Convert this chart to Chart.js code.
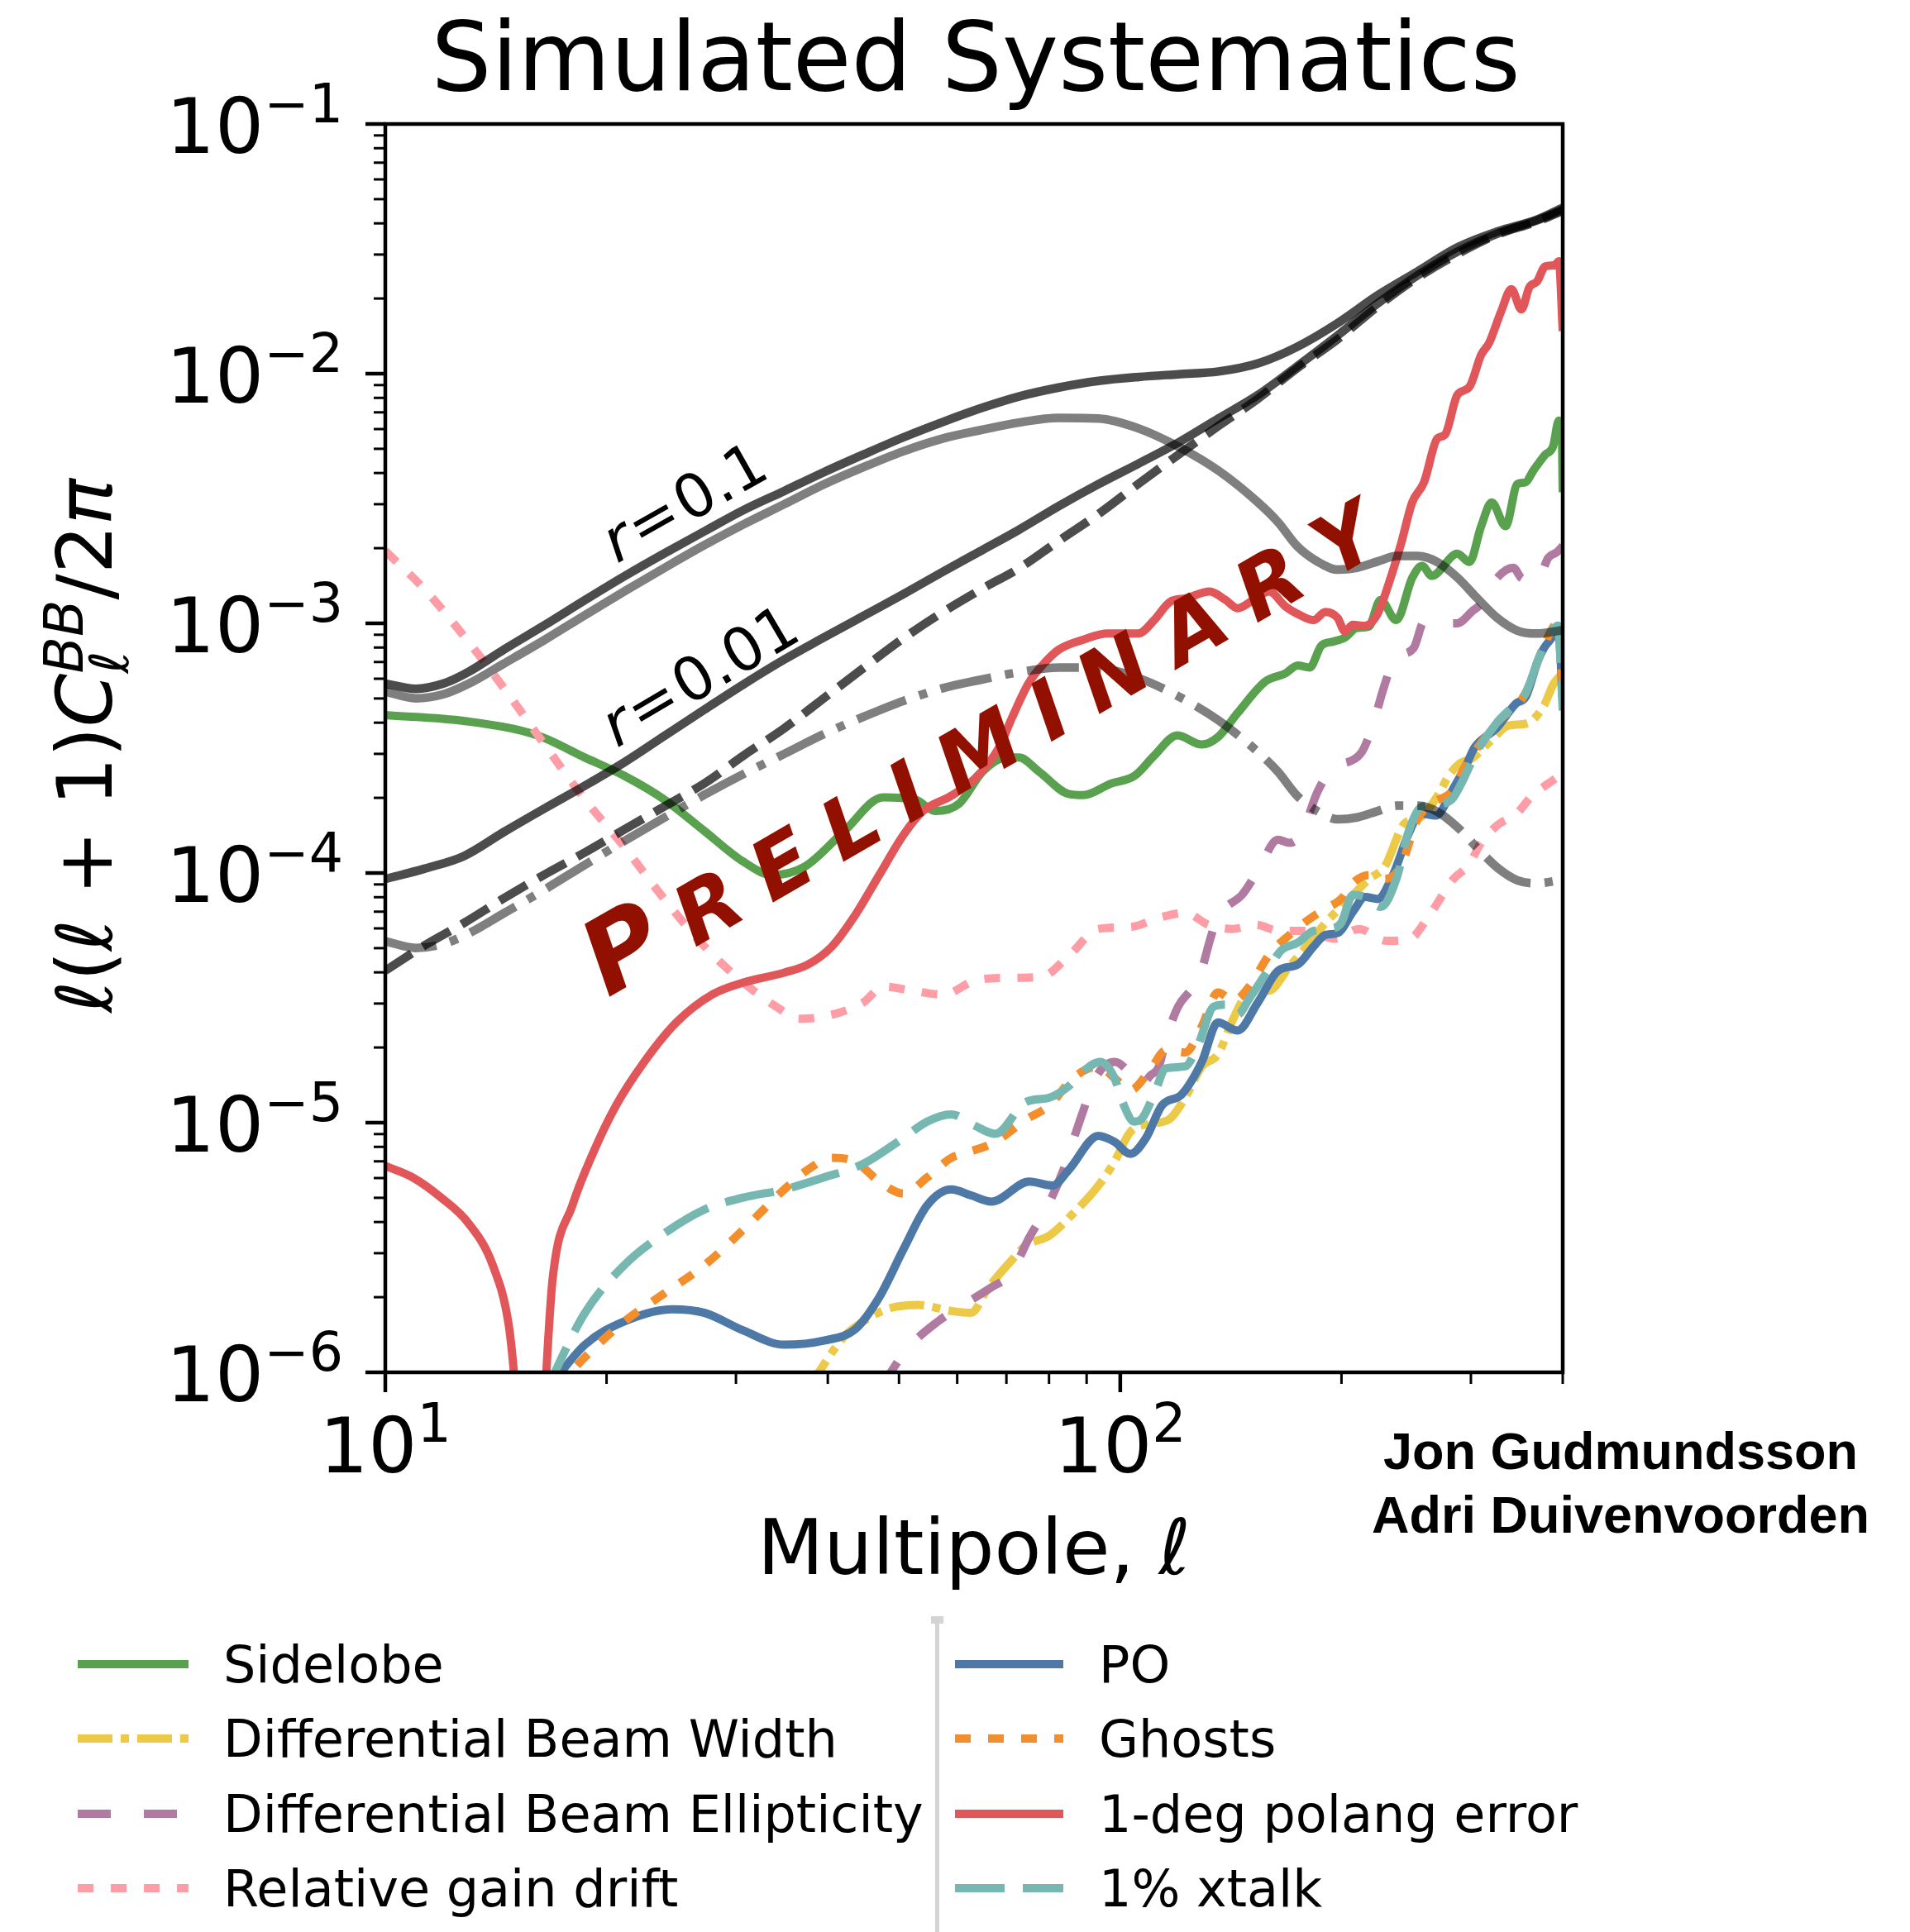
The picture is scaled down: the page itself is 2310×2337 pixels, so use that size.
<!DOCTYPE html>
<html>
<head>
<meta charset="utf-8">
<title>Simulated Systematics</title>
<script src="https://cdn.jsdelivr.net/npm/chart.js@4.4.1/dist/chart.umd.min.js"></script>
<style>
  html, body { margin: 0; padding: 0; background: #fff; overflow: hidden; }
  canvas { display: block; }
</style>
</head>
<body>
<canvas id="bbChart" width="2310" height="2337"></canvas>
<script>
// multipole grids and D_ell^BB values
const ellR01Total = [10, 11, 12, 13, 14.5, 16.5, 18.7, 21.2, 24, 27.2, 30.7, 34.9, 39.5, 44.7, 50.7, 57.4, 65, 72.8, 82.5, 93.4, 106, 120, 136, 154, 174, 198, 224, 254, 288, 326, 369, 400];
const clR01Total = [5.74e-4, 5.47e-4, 5.74e-4, 6.41e-4, 7.85e-4, 9.86e-4, 1.24e-3, 1.55e-3, 1.91e-3, 2.34e-3, 2.84e-3, 3.39e-3, 4.03e-3, 4.74e-3, 5.56e-3, 6.41e-3, 7.31e-3, 8.1e-3, 8.8e-3, 9.35e-3, 9.7e-3, 9.95e-3, 1.02e-2, 1.10e-2, 1.28e-2, 1.60e-2, 2.06e-2, 2.57e-2, 3.21e-2, 3.71e-2, 4.14e-2, 4.62e-2];

const ellTensor = [10, 11, 12, 13, 14.5, 16.5, 18.7, 21.2, 24, 27.2, 30.7, 34.9, 39.5, 44.7, 50.7, 57.4, 64.2, 72.8, 82.5, 93.4, 106, 120, 136, 154, 164, 174, 186, 198, 210, 224, 238, 254, 270, 288, 306, 326, 347, 369, 400];
const clR01Tensor = [5.33e-4, 5.01e-4, 5.2e-4, 5.74e-4, 6.9e-4, 8.61e-4, 1.08e-3, 1.35e-3, 1.67e-3, 2.06e-3, 2.49e-3, 3.0e-3, 3.6e-3, 4.22e-3, 4.89e-3, 5.5e-3, 5.92e-3, 6.37e-3, 6.65e-3, 6.61e-3, 6.03e-3, 5.1e-3, 4.09e-3, 3.05e-3, 2.54e-3, 2.04e-3, 1.76e-3, 1.64e-3, 1.67e-3, 1.77e-3, 1.86e-3, 1.86e-3, 1.76e-3, 1.52e-3, 1.26e-3, 1.05e-3, 9.35e-4, 9.1e-4, 9.4e-4];
const clR001Tensor = [5.33e-5, 5.01e-5, 5.2e-5, 5.74e-5, 6.9e-5, 8.61e-5, 1.08e-4, 1.35e-4, 1.67e-4, 2.06e-4, 2.49e-4, 3.0e-4, 3.6e-4, 4.22e-4, 4.89e-4, 5.5e-4, 5.92e-4, 6.37e-4, 6.65e-4, 6.61e-4, 6.03e-4, 5.1e-4, 4.09e-4, 3.05e-4, 2.54e-4, 2.04e-4, 1.76e-4, 1.64e-4, 1.67e-4, 1.77e-4, 1.86e-4, 1.86e-4, 1.76e-4, 1.52e-4, 1.26e-4, 1.05e-4, 9.35e-5, 9.1e-5, 9.4e-5];

const ellLens = [10, 11.3, 12.8, 14.5, 16.5, 18.7, 21.2, 24, 27.2, 30.7, 34.9, 39.5, 44.7, 50.7, 57.4, 65, 72.8, 82.5, 93.4, 106, 120, 136, 154, 174, 198, 224, 254, 288, 326, 369, 400];
const clLens = [4.06e-5, 5.12e-5, 6.31e-5, 7.92e-5, 9.89e-5, 1.21e-4, 1.50e-4, 1.85e-4, 2.29e-4, 2.95e-4, 3.80e-4, 5.01e-4, 6.61e-4, 8.71e-4, 1.11e-3, 1.38e-3, 1.66e-3, 2.14e-3, 2.74e-3, 3.63e-3, 4.74e-3, 6.17e-3, 7.94e-3, 1.05e-2, 1.38e-2, 1.86e-2, 2.43e-2, 3.02e-2, 3.61e-2, 4.07e-2, 4.49e-2];
const clR001Total = [9.46e-5, 1.04e-4, 1.17e-4, 1.46e-4, 1.82e-4, 2.24e-4, 2.79e-4, 3.55e-4, 4.52e-4, 5.69e-4, 7.16e-4, 8.77e-4, 1.07e-3, 1.31e-3, 1.61e-3, 1.97e-3, 2.37e-3, 2.95e-3, 3.61e-3, 4.37e-3, 5.30e-3, 6.61e-3, 8.22e-3, 1.07e-2, 1.43e-2, 1.91e-2, 2.48e-2, 3.09e-2, 3.64e-2, 4.11e-2, 4.54e-2];

const ellSidelobe = [10, 12.84, 16.1, 18.69, 21.15, 23.96, 27.2, 30.7, 33.6, 37.2, 42.1, 47.6, 52.6, 56, 60.4, 65, 70.1, 72.8, 77.5, 84.8, 89.1, 97.1, 104.6, 111.2, 119.6, 129.1, 135.8, 144.4, 157.6, 167.7, 174.4, 181, 187.8, 194.9, 202.2, 209.9, 217.8, 226, 237.5, 249.6, 257.4, 265.4, 287.5, 298.6, 309.8, 320.2, 334.4, 347, 355.8, 364.8, 378.6, 388, 395.2, 398.7, 400];
const clSidelobe = [4.29e-4, 4.06e-4, 3.56e-4, 2.90e-4, 2.45e-4, 1.97e-4, 1.47e-4, 1.11e-4, 9.82e-5, 1.06e-4, 1.47e-4, 2.01e-4, 1.97e-4, 1.77e-4, 1.90e-4, 2.55e-4, 2.90e-4, 2.90e-4, 2.55e-4, 2.08e-4, 2.05e-4, 2.28e-4, 2.45e-4, 2.95e-4, 3.56e-4, 3.27e-4, 3.50e-4, 4.37e-4, 5.85e-4, 6.30e-4, 6.78e-4, 6.65e-4, 8.15e-4, 8.45e-4, 8.77e-4, 9.59e-4, 9.70e-4, 1.24e-3, 1.03e-3, 1.52e-3, 1.70e-3, 1.55e-3, 1.90e-3, 1.76e-3, 2.45e-3, 3.05e-3, 2.45e-3, 3.61e-3, 3.67e-3, 4.09e-3, 4.74e-3, 5.10e-3, 6.49e-3, 6.10e-3, 3.35e-3];

const ellBeamWidth = [37.5, 42.1, 44.7, 48.1, 53.2, 58.9, 62.7, 65.9, 71.0, 74.4, 80.1, 86.3, 93.4, 98.2, 103.2, 109.7, 116.5, 122.6, 129.1, 135.8, 142.6, 149.8, 159.5, 169.9, 181, 190.2, 202.5, 218.1, 229, 243.7, 256.2, 272.5, 279, 290, 301, 322, 337, 358, 377, 389, 400];
const clBeamWidth = [8.5e-7, 1.39e-6, 1.60e-6, 1.79e-6, 1.86e-6, 1.76e-6, 1.73e-6, 2.15e-6, 2.79e-6, 3.22e-6, 3.53e-6, 4.33e-6, 5.60e-6, 6.97e-6, 9.18e-6, 9.89e-6, 1.03e-5, 1.26e-5, 1.68e-5, 1.88e-5, 2.62e-5, 3.32e-5, 3.38e-5, 4.22e-5, 5.26e-5, 6.31e-5, 7.59e-5, 9.46e-5, 1.06e-4, 1.58e-4, 1.67e-4, 2.12e-4, 2.42e-4, 2.75e-4, 2.88e-4, 3.47e-4, 3.89e-4, 3.98e-4, 4.68e-4, 5.75e-4, 6.31e-4];

const ellEllipticity = [47, 51.3, 56.5, 61.1, 66.8, 71, 75.2, 79.2, 83.7, 85.8, 89.1, 92.5, 98.2, 104.5, 106.6, 110, 112.7, 115.6, 119.9, 124.6, 127.7, 132.6, 135.8, 139.2, 146.4, 153.9, 163.9, 170, 176.4, 185.6, 193.8, 212.6, 220.5, 228, 235.8, 250.6, 259.4, 270, 287, 302.5, 310, 325.6, 342.6, 351.4, 369, 382.3, 392.9, 400];
const clEllipticity = [8.5e-7, 1.24e-6, 1.60e-6, 1.86e-6, 2.19e-6, 2.49e-6, 3.47e-6, 4.49e-6, 6.47e-6, 8.07e-6, 1.12e-5, 1.51e-5, 1.75e-5, 1.51e-5, 1.41e-5, 1.55e-5, 1.66e-5, 2.19e-5, 2.92e-5, 3.38e-5, 3.71e-5, 5.45e-5, 6.79e-5, 7.31e-5, 8.17e-5, 1.02e-4, 1.36e-4, 1.32e-4, 1.44e-4, 2.12e-4, 2.60e-4, 3.02e-4, 3.89e-4, 5.45e-4, 7.14e-4, 7.94e-4, 1.02e-3, 1.0e-3, 1.0e-3, 1.13e-3, 1.20e-3, 1.52e-3, 1.67e-3, 1.52e-3, 1.47e-3, 1.83e-3, 1.93e-3, 2.04e-3];

const ellGainDrift = [10, 11.33, 12.84, 14.55, 16.05, 18.69, 21.15, 23.96, 27.2, 30.7, 34.0, 36.6, 39.5, 44.7, 47.6, 52.0, 57.4, 63.5, 70, 78.3, 85.4, 93.4, 103.2, 113.9, 122.6, 132, 142, 152.8, 164.7, 179.6, 196.1, 211.3, 230.2, 247.7, 263.5, 284, 298.3, 309.6, 325.6, 346.3, 363.8, 382.1, 395.7, 400];
const clGainDrift = [1.95e-3, 1.36e-3, 8.77e-4, 5.43e-4, 3.63e-4, 1.97e-4, 1.27e-4, 7.87e-5, 5.07e-5, 3.64e-5, 2.92e-5, 2.61e-5, 2.66e-5, 3.03e-5, 3.51e-5, 3.38e-5, 3.26e-5, 3.71e-5, 3.80e-5, 3.85e-5, 4.71e-5, 5.97e-5, 6.08e-5, 6.67e-5, 6.92e-5, 6.19e-5, 5.97e-5, 6.2e-5, 5.86e-5, 5.86e-5, 5.45e-5, 5.97e-5, 5.35e-5, 5.45e-5, 6.79e-5, 9.46e-5, 1.08e-4, 1.32e-4, 1.55e-4, 1.73e-4, 2.05e-4, 2.28e-4, 2.45e-4, 2.51e-4];

const ellPO = [16.5, 18.69, 21.15, 24.6, 27.2, 30.7, 34.9, 39.5, 43.6, 47.0, 50.7, 54.6, 58.9, 62.7, 66.8, 75.2, 80.9, 85.1, 93.4, 98.2, 103.2, 108.4, 113.9, 121.3, 129.1, 135.8, 144.4, 153.9, 164, 174.4, 183.2, 190.2, 197.6, 207.6, 215.4, 223.9, 235, 246.9, 256.2, 269, 282.4, 296.2, 303.4, 325, 346, 356, 370, 377, 388, 394, 400];
const clPO = [8.3e-7, 1.29e-6, 1.60e-6, 1.79e-6, 1.73e-6, 1.47e-6, 1.29e-6, 1.34e-6, 1.49e-6, 2.0e-6, 3.11e-6, 4.66e-6, 5.40e-6, 5.11e-6, 4.83e-6, 5.81e-6, 5.60e-6, 6.47e-6, 8.85e-6, 8.38e-6, 7.50e-6, 8.69e-6, 1.17e-5, 1.30e-5, 1.75e-5, 2.52e-5, 2.34e-5, 3.03e-5, 4.06e-5, 4.30e-5, 5.07e-5, 5.65e-5, 5.75e-5, 7.05e-5, 8.02e-5, 7.87e-5, 9.82e-5, 1.44e-4, 1.73e-4, 1.70e-4, 2.12e-4, 2.74e-4, 3.18e-4, 3.80e-4, 4.79e-4, 5.06e-4, 7.08e-4, 7.94e-4, 8.91e-4, 9.77e-4, 5.01e-4];

const ellGhosts = [17.0, 18.69, 21.15, 23.96, 27.2, 30.7, 34.9, 37.6, 40.5, 43.6, 47.0, 50.7, 54.6, 58.9, 61.1, 67.6, 74.4, 80.1, 86.3, 93.4, 98.2, 103.2, 109.7, 115.4, 122.6, 129.1, 135.8, 142.6, 149.8, 159.5, 169.9, 181, 190.2, 199.8, 207.3, 218.1, 229, 240.6, 253.7, 265.5, 282.4, 296.2, 325, 356, 377, 394, 400];
const clGhosts = [8.5e-7, 1.15e-6, 1.60e-6, 2.07e-6, 2.69e-6, 3.73e-6, 5.40e-6, 6.49e-6, 7.23e-6, 6.97e-6, 5.81e-6, 5.20e-6, 6.03e-6, 7.23e-6, 7.50e-6, 8.38e-6, 1.03e-5, 1.17e-5, 1.51e-5, 1.68e-5, 1.51e-5, 1.35e-5, 1.62e-5, 1.95e-5, 1.91e-5, 2.43e-5, 3.32e-5, 3.08e-5, 3.51e-5, 4.71e-5, 5.65e-5, 6.55e-5, 7.18e-5, 7.87e-5, 9.12e-5, 9.82e-5, 9.46e-5, 1.06e-4, 1.64e-4, 1.90e-4, 2.12e-4, 2.74e-4, 3.98e-4, 5.25e-4, 8.13e-4, 1.0e-3, 5.62e-4];

const ellPolang = [10, 10.9, 11.91, 12.99, 14.0, 14.72, 15.9, 16.9, 17.97, 19.15, 20.6, 22.5, 24.89, 27.85, 30.7, 34.9, 37.6, 40.5, 43.6, 47.0, 50.7, 53.9, 58.9, 63.5, 68.3, 71.3, 75, 78.3, 82.5, 89.1, 96.2, 105.8, 111.2, 116.9, 122.9, 132.3, 139.1, 144.4, 151.7, 159.5, 167.7, 174.4, 183.2, 190.2, 197.6, 202.2, 207.2, 215.2, 223.9, 232.4, 241.3, 249.6, 259, 270, 276.6, 287.5, 298.6, 309.8, 317.7, 329.9, 340.5, 351.4, 360.3, 369.1, 378.6, 390.4, 395.2, 400];
const clPolang = [6.71e-6, 6.03e-6, 5.01e-6, 3.94e-6, 2.69e-6, 1.55e-6, 2.0e-7, 2.40e-6, 4.66e-6, 7.50e-6, 1.17e-5, 1.75e-5, 2.52e-5, 3.26e-5, 3.64e-5, 3.99e-5, 4.30e-5, 5.07e-5, 6.79e-5, 9.82e-5, 1.42e-4, 1.77e-4, 2.04e-4, 2.40e-4, 3.16e-4, 4.21e-4, 5.74e-4, 6.78e-4, 7.85e-4, 8.61e-4, 9.10e-4, 9.10e-4, 1.03e-3, 1.22e-3, 1.26e-3, 1.34e-3, 1.24e-3, 1.15e-3, 1.24e-3, 1.34e-3, 1.17e-3, 1.09e-3, 1.03e-3, 1.11e-3, 1.05e-3, 9.27e-4, 9.86e-4, 9.77e-4, 1.09e-3, 1.47e-3, 2.11e-3, 3.05e-3, 3.67e-3, 5.50e-3, 5.70e-3, 8.22e-3, 8.85e-3, 1.19e-2, 1.33e-2, 1.78e-2, 2.18e-2, 1.81e-2, 2.22e-2, 2.34e-2, 2.69e-2, 2.72e-2, 2.82e-2, 1.48e-2];

const ellXtalk = [16.5, 18.69, 21.15, 23.96, 27.2, 30.7, 34.9, 39.5, 44.7, 50.7, 54.6, 58.9, 63.5, 67.6, 74.4, 80.1, 85.1, 89.4, 93.9, 98.2, 100.7, 104.5, 107.1, 111.2, 115.4, 122.6, 127.4, 134.1, 139.2, 144.4, 149.8, 157.5, 165.5, 174.4, 183.2, 192.5, 199.8, 207.3, 215.3, 226.1, 237.5, 246.9, 256.2, 265.5, 282.4, 293, 303.4, 325, 346, 356, 370, 377, 394, 400];
const clXtalk = [8.3e-7, 1.73e-6, 2.69e-6, 3.60e-6, 4.49e-6, 5.01e-6, 5.40e-6, 6.03e-6, 6.84e-6, 8.69e-6, 1.01e-5, 1.08e-5, 9.70e-6, 9.02e-6, 1.21e-5, 1.26e-5, 1.40e-5, 1.62e-5, 1.75e-5, 1.51e-5, 1.21e-5, 1.01e-5, 1.04e-5, 1.30e-5, 1.65e-5, 1.68e-5, 2.02e-5, 2.92e-5, 2.97e-5, 2.71e-5, 3.14e-5, 3.92e-5, 4.89e-5, 5.26e-5, 5.86e-5, 5.97e-5, 6.31e-5, 8.17e-5, 8.02e-5, 7.31e-5, 9.46e-5, 1.47e-4, 1.83e-4, 1.87e-4, 1.97e-4, 2.37e-4, 2.95e-4, 3.98e-4, 4.79e-4, 5.25e-4, 7.08e-4, 8.13e-4, 9.77e-4, 4.47e-4];

// axis ticks
const xMajorTicks = [10, 100];
const xMinorTicks = [20, 30, 40, 50, 60, 70, 80, 90, 200, 300, 400];
const yTickExps = [-1, -2, -3, -4, -5, -6];

// legend, two columns as in the figure
const legendLeft = ['Sidelobe', 'Differential Beam Width', 'Differential Beam Ellipticity', 'Relative gain drift'];
const legendRight = ['PO', 'Ghosts', '1-deg polang error', '1% xtalk'];

const FONT = '"DejaVu Sans"';

function series(label, ell, cl, color, width, dash, layer) {
    return {
        label: label,
        data: ell.map((x, i) => ({ x: x, y: cl[i] })),
        borderColor: color,
        borderWidth: width,
        borderDash: dash,
        borderCapStyle: 'butt',
        borderJoinStyle: 'round',
        cubicInterpolationMode: 'monotone',
        pointRadius: 0,
        fill: false,
        clip: 0,
        order: 20 - layer // lower order is painted on top
    };
}

// draw a run of text pieces (for superscripts, italics) starting at x
function drawRuns(c, parts, x, y, align) {
    let total = 0;
    parts.forEach(p => {
        c.font = p.font;
        p.w = (p.adv === 0) ? 0 : c.measureText(p.t).width + (p.pre || 0) + (p.post || 0);
        total += p.w;
    });
    let cx = align === 'center' ? x - total / 2 : (align === 'right' ? x - total : x);
    parts.forEach(p => {
        c.font = p.font;
        c.fillText(p.t, cx + (p.pre || 0), y + (p.dy || 0));
        cx += p.w;
    });
}

const decor = {
    id: 'decor',
    beforeDraw(chart) {
        const c = chart.ctx;
        c.save();
        c.fillStyle = '#fff';
        c.fillRect(0, 0, chart.width, chart.height);
        c.restore();
    },
    afterDraw(chart) {
        const c = chart.ctx;
        const a = chart.chartArea;
        const xs = chart.scales.x;
        const ys = chart.scales.y;
        const midX = (a.left + a.right) / 2;
        c.save();
        c.textAlign = 'left';
        c.textBaseline = 'alphabetic';

        // watermark
        c.save();
        c.translate(735, 1207);
        c.rotate(-30 * Math.PI / 180);
        c.fillStyle = '#921000';
        let wx = 0;
        'PRELIMINARY'.split('').forEach((ch, i) => {
            c.font = 'italic bold ' + (i === 0 ? 125 : 100) + 'px ' + FONT;
            c.fillText(ch, wx, 0);
            wx += c.measureText(ch).width + 30;
        });
        c.restore();

        // r labels next to the theory curves
        c.fillStyle = '#000';
        const rLabels = [['0.1', 746, 682, -29.5], ['0.01', 746, 905, -30.5]];
        rLabels.forEach(([val, x, y, ang]) => {
            c.save();
            c.translate(x, y);
            c.rotate(ang * Math.PI / 180);
            drawRuns(c, [
                { t: 'r', font: 'italic 73px ' + FONT },
                { t: '=', font: '73px ' + FONT, pre: 4, post: 4 },
                { t: val, font: '73px ' + FONT }
            ], 0, 0, 'left');
            c.restore();
        });

        // frame
        c.strokeStyle = '#000';
        c.lineWidth = 4.5;
        c.strokeRect(a.left, a.top, a.right - a.left, a.bottom - a.top);

        // ticks
        function tick(x1, y1, x2, y2, w) {
            c.lineWidth = w;
            c.beginPath();
            c.moveTo(x1, y1);
            c.lineTo(x2, y2);
            c.stroke();
        }
        yTickExps.forEach(e => {
            const y = ys.getPixelForValue(Math.pow(10, e));
            tick(a.left, y, a.left - 24, y, 4.5);
            if (e > -6) {
                for (let k = 2; k <= 9; k++) {
                    const ym = ys.getPixelForValue(k * Math.pow(10, e - 1));
                    tick(a.left, ym, a.left - 14, ym, 3);
                }
            }
        });
        xMajorTicks.forEach(v => {
            const x = xs.getPixelForValue(v);
            tick(x, a.bottom, x, a.bottom + 24, 4.5);
        });
        xMinorTicks.forEach(v => {
            const x = xs.getPixelForValue(v);
            tick(x, a.bottom, x, a.bottom + 14, 3);
        });

        // tick labels 10^n
        c.fillStyle = '#000';
        yTickExps.forEach(e => {
            const y = ys.getPixelForValue(Math.pow(10, e));
            drawRuns(c, [
                { t: '10', font: '93px ' + FONT },
                { t: '\u2212' + (-e), font: '65px ' + FONT, dy: -37 }
            ], a.left - 51, y + 35, 'right');
        });
        xMajorTicks.forEach(v => {
            const x = xs.getPixelForValue(v);
            drawRuns(c, [
                { t: '10', font: '93px ' + FONT },
                { t: String(Math.round(Math.log10(v))), font: '65px ' + FONT, dy: -37 }
            ], x, a.bottom + 121, 'center');
        });

        // title and axis labels
        c.font = '115px ' + FONT;
        c.textAlign = 'center';
        c.fillText('Simulated Systematics', midX + 2, 109);
        c.textAlign = 'left';
        drawRuns(c, [
            { t: 'Multipole, ', font: '93px ' + FONT },
            { t: '\u2113', font: 'italic 93px ' + FONT }
        ], midX, a.bottom + 244, 'center');

        c.save();
        c.translate(135, (a.top + a.bottom) / 2 - 3);
        c.rotate(-Math.PI / 2);
        const it = 'italic 93px ' + FONT, up = '93px ' + FONT;
        drawRuns(c, [
            { t: '\u2113', font: it },
            { t: '(', font: up },
            { t: '\u2113', font: it },
            { t: ' + 1)', font: up },
            { t: 'C', font: it },
            { t: '\u2113', font: 'italic 65px ' + FONT, dy: 20, adv: 0 },
            { t: 'BB', font: 'italic 65px ' + FONT, dy: -35 },
            { t: '/2', font: up },
            { t: '\u03c0', font: it }
        ], 0, 0, 'center');
        c.restore();

        // legend
        const rowY = [2013, 2103, 2194, 2284];
        const cols = [[legendLeft, 94, 228, 270], [legendRight, 1155, 1286, 1329]];
        cols.forEach(([names, x1, x2, tx]) => {
            names.forEach((name, r) => {
                const ds = chart.data.datasets.find(d => d.label === name);
                const y = rowY[r];
                c.save();
                c.strokeStyle = ds.borderColor;
                c.lineWidth = 10;
                c.lineCap = 'butt';
                c.setLineDash(ds.borderDash || []);
                c.beginPath();
                c.moveTo(x1, y);
                c.lineTo(x2, y);
                c.stroke();
                c.restore();
                c.fillStyle = '#000';
                c.font = '62px ' + FONT;
                c.fillText(name, tx, y + 22);
            });
        });
        // separator between legend columns
        c.fillStyle = '#d4d4d4';
        c.fillRect(1131, 1960, 5, 2337 - 1960);
        c.fillRect(1126, 1955, 15, 9);

        // authors
        c.fillStyle = '#000';
        c.font = 'bold 63px "Liberation Sans"';
        c.textAlign = 'center';
        c.fillText('Jon Gudmundsson', 1960, 1777);
        c.fillText('Adri Duivenvoorden', 1960, 1854);

        c.restore();
    }
};

const datasets = [
    series('Sidelobe', ellSidelobe, clSidelobe, '#59a14f', 10, [], 0),
    series('Differential Beam Width', ellBeamWidth, clBeamWidth, '#edc948', 10, [42, 10, 10, 10], 1),
    series('Differential Beam Ellipticity', ellEllipticity, clEllipticity, '#b07aa1', 10, [40, 40], 2),
    series('Relative gain drift', ellGainDrift, clGainDrift, '#ff9da7', 10, [19, 21], 3),
    series('PO', ellPO, clPO, '#4e79a7', 10, [], 4),
    series('Ghosts', ellGhosts, clGhosts, '#f28e2b', 10, [19, 21], 5),
    series('1-deg polang error', ellPolang, clPolang, '#e15759', 10, [], 6),
    series('1% xtalk', ellXtalk, clXtalk, '#76b7b2', 10, [60, 22], 7),
    series('r=0.1 total', ellR01Total, clR01Total, 'rgba(0,0,0,0.7)', 10.5, [], 8),
    series('r=0.1 tensor', ellTensor, clR01Tensor, 'rgba(0,0,0,0.5)', 10.5, [], 9),
    series('r=0.01 total', ellLens, clR001Total, 'rgba(0,0,0,0.7)', 10.5, [], 10),
    series('lensing', ellLens, clLens, 'rgba(0,0,0,0.7)', 10.5, [38, 16], 11),
    series('r=0.01 tensor', ellTensor, clR001Tensor, 'rgba(0,0,0,0.5)', 10.5, [63, 17, 10, 17], 12)
];

const ctx = document.getElementById('bbChart').getContext('2d');
new Chart(ctx, {
    type: 'line',
    data: { datasets: datasets },
    options: {
        responsive: false,
        animation: false,
        devicePixelRatio: 1,
        layout: { padding: { left: 466, top: 150, right: 420, bottom: 677 } },
        scales: {
            x: { type: 'logarithmic', min: 10, max: 400, display: false },
            y: { type: 'logarithmic', min: 1e-6, max: 1e-1, display: false }
        },
        plugins: {
            legend: { display: false },
            title: { display: false },
            tooltip: { enabled: false }
        }
    },
    plugins: [decor]
});
</script>
</body>
</html>
